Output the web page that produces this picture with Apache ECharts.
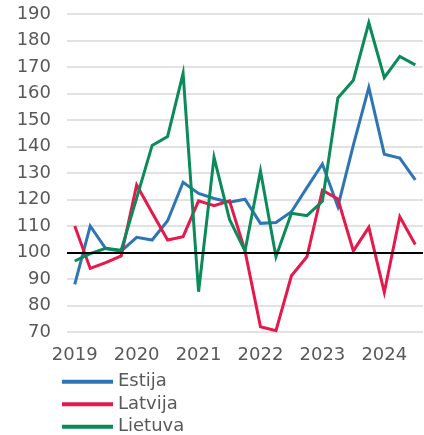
<!DOCTYPE html>
<html>
<head>
<meta charset="utf-8">
<script src="https://cdn.jsdelivr.net/npm/echarts@6/dist/echarts.min.js"></script>
<style>
  html, body { margin: 0; padding: 0; background: #fff; }
  #chart { width: 424px; height: 435px; }
</style>
</head>
<body>
<div id="chart"></div>
<script>
// quarters, 2019 Q1 .. 2024 Q3
const quarters = [
  '2019 Q1', '2019 Q2', '2019 Q3', '2019 Q4',
  '2020 Q1', '2020 Q2', '2020 Q3', '2020 Q4',
  '2021 Q1', '2021 Q2', '2021 Q3', '2021 Q4',
  '2022 Q1', '2022 Q2', '2022 Q3', '2022 Q4',
  '2023 Q1', '2023 Q2', '2023 Q3', '2023 Q4',
  '2024 Q1', '2024 Q2', '2024 Q3',
]

const estija = [
  88, 110, 101.5, 100.5, 105.7, 104.7, 112, 126.5, 122.3, 120.4, 119, 120.1,
  111, 111.3, 115.4, 124.5, 133.4, 117.3, 140.5, 162.3, 137.1, 135.6, 127.4,
]
const latvija = [
  110, 94, 96.2, 98.7, 125.5, 115, 104.7, 106, 119.5, 117.7, 119.5, 100.6,
  72, 70.5, 91.2, 98.4, 123.5, 120.2, 100.6, 109.5, 85, 113.5, 103,
]
const lietuva = [
  96.8, 99.6, 101.6, 100.9, 120.5, 140.4, 143.8, 167.6, 85.2, 135.9, 112.5, 100.6,
  130.8, 98.4, 114.8, 113.9, 119.3, 158.3, 165, 186.7, 166, 174, 170.8,
]

const baseline = 100
const yTicks = { min: 70, max: 190, step: 10 }

const labelColor = '#595959'
const font = 'DejaVu Sans, Verdana, sans-serif'

function lineSeries(name, data, color) {
  return {
    name,
    type: 'line',
    data,
    symbol: 'none',
    smooth: false,
    lineStyle: { color, width: 3, join: 'miter' },
    itemStyle: { color },
  }
}

const series = [
  lineSeries('Estija', estija, '#2e75b6'),
  lineSeries('Latvija', latvija, '#e5194b'),
  lineSeries('Lietuva', lietuva, '#0b8a5a'),
]

// horizontal axis crossing at 100
series.unshift({
  name: 'base',
  type: 'line',
  data: [],
  silent: true,
  markLine: {
    silent: true,
    symbol: 'none',
    label: { show: false },
    lineStyle: { color: '#000', width: 2, type: 'solid' },
    data: [{ yAxis: baseline }],
  },
})

const chart = echarts.init(document.getElementById('chart'), null, { renderer: 'canvas' })

chart.setOption({
  animation: false,
  backgroundColor: '#fff',
  grid: {
    left: 67,
    right: 1,
    top: 14,
    height: 318,
    containLabel: false,
  },
  xAxis: {
    type: 'category',
    data: quarters,
    boundaryGap: true,
    axisLine: { show: false },
    axisTick: { show: false },
    axisLabel: {
      interval: 3,
      margin: 14,
      color: labelColor,
      fontSize: 18,
      fontFamily: font,
      formatter: (v) => v.slice(0, 4),
    },
    splitLine: { show: false },
  },
  yAxis: {
    type: 'value',
    min: yTicks.min,
    max: yTicks.max,
    interval: yTicks.step,
    axisLine: { show: false },
    axisTick: { show: false },
    axisLabel: {
      margin: 16,
      color: labelColor,
      fontSize: 18,
      fontFamily: font,
    },
    splitLine: {
      lineStyle: { color: '#d9d9d9', width: 1.5 },
    },
  },
  legend: {
    data: ['Estija', 'Latvija', 'Lietuva'],
    orient: 'vertical',
    left: 62,
    top: 372.7,
    height: 90,
    padding: 0,
    icon: 'rect',
    itemWidth: 51,
    itemHeight: 4,
    itemGap: 4.5,
    textStyle: {
      color: labelColor,
      fontSize: 18,
      lineHeight: 18,
      fontFamily: font,
    },
  },
  series,
})
</script>
</body>
</html>
